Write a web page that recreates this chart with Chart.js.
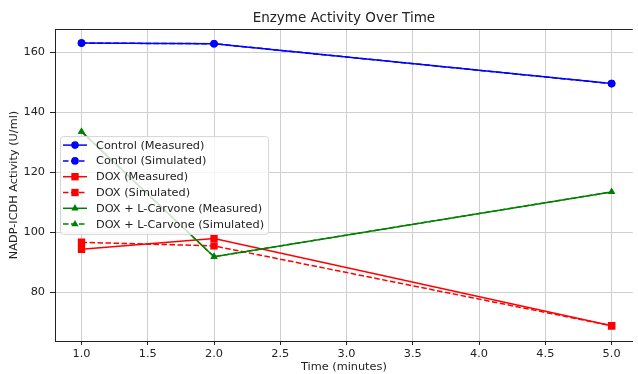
<!DOCTYPE html>
<html>
<head>
<meta charset="utf-8">
<script src="https://cdn.jsdelivr.net/npm/chart.js@4.4.1/dist/chart.umd.min.js"></script>
<style>
  html, body { margin: 0; padding: 0; background: #fff; }
  #wrap { width: 638px; height: 374px; position: relative; }
</style>
</head>
<body>
<div id="wrap"><canvas id="myChart"></canvas></div>
<script>
// DATA
const timeMin= [1.0, 2.0, 5.0];
const controlMeasured= [163.0, 162.8, 149.5];
const controlSimulated= [163.0, 162.8, 149.5];
const doxMeasured= [94.3, 97.9, 68.8];
const doxSimulated= [96.6, 95.4, 68.8];
const carvoneMeasured= [133.5, 91.8, 113.4];
const carvoneSimulated= [133.5, 91.8, 113.4];
const seriesLabels= ["Control (Measured)", "Control (Simulated)", "DOX (Measured)", "DOX (Simulated)", "DOX + L-Carvone (Measured)", "DOX + L-Carvone (Simulated)"];
const xTicks= [1.0, 1.5, 2.0, 2.5, 3.0, 3.5, 4.0, 4.5, 5.0];
const yTicks= [80, 100, 120, 140, 160];

const FONT= "'DejaVu Sans', sans-serif";
const FS= 11.3;     // tick / label / legend font size
const TEXT= "#222";

Chart.defaults.font.family= FONT;
Chart.defaults.color= TEXT;

// turn the x / y arrays into points
const toPoints= (ys) => timeMin.map((x, i) => ({x: x, y: ys[i]}));

// one dataset per series, later series drawn on top (like matplotlib)
const makeSet= function(idx, values, color, style, radius, dashed){
    return {
        label: seriesLabels[idx],
        data: toPoints(values),
        borderColor: color,
        backgroundColor: color,
        borderWidth: 1.5,
        borderDash: dashed ? [5.5, 2.5] : [],
        pointStyle: style,
        pointRadius: radius,
        pointHoverRadius: radius,
        pointBorderWidth: 0,
        pointBackgroundColor: color,
        fill: false,
        tension: 0,
        order: 10 - idx,
    };
};

const datasets= [
    makeSet(0, controlMeasured, "#0000ff", "circle", 3.8, false),
    makeSet(1, controlSimulated, "#0000ff", "circle", 3.8, true),
    makeSet(2, doxMeasured, "#ff0000", "rect", 5.2, false),
    makeSet(3, doxSimulated, "#ff0000", "rect", 5.2, true),
    makeSet(4, carvoneMeasured, "#008000", "triangle", 4.2, false),
    makeSet(5, carvoneSimulated, "#008000", "triangle", 4.2, true),
];

// top spine of the axes box
const framePlugin= {
    id: 'frame',
    afterDraw(chart){
        const {ctx, chartArea}= chart;
        ctx.save();
        ctx.strokeStyle= TEXT;
        ctx.lineWidth= 1;
        ctx.beginPath();
        ctx.moveTo(chartArea.left, chartArea.top + 0.5);
        ctx.lineTo(chartArea.right, chartArea.top + 0.5);
        ctx.stroke();
        ctx.restore();
    }
};

// matplotlib style legend, "center left" inside the axes
const legendPlugin= {
    id: 'mplLegend',
    afterDatasetsDraw(chart){
        const {ctx, chartArea}= chart;
        const rowH= 15.8;
        const n= chart.data.datasets.length;
        ctx.save();
        ctx.font= `${FS}px ${FONT}`;
        let maxW= 0;
        chart.data.datasets.forEach(ds => { maxW= Math.max(maxW, ctx.measureText(ds.label).width); });
        const left= chartArea.left + 5;
        const boxW= 3 + 24 + 9 + maxW + 4;
        const boxH= n * rowH + 3;
        const top= (chartArea.top + chartArea.bottom) / 2 - boxH / 2;

        // box
        ctx.beginPath();
        ctx.roundRect(left + 0.5, top + 0.5, boxW, boxH, 3);
        ctx.fillStyle= "rgba(255,255,255,0.8)";
        ctx.fill();
        ctx.strokeStyle= "#d6d6d6";
        ctx.lineWidth= 1;
        ctx.stroke();

        chart.data.datasets.forEach((ds, i) => {
            const y= top + 9 + i * rowH;
            const x0= left + 3, x1= left + 27;
            ctx.strokeStyle= ds.borderColor;
            ctx.fillStyle= ds.borderColor;
            ctx.lineWidth= ds.borderWidth;
            ctx.setLineDash(ds.borderDash);
            ctx.beginPath();
            ctx.moveTo(x0, y);
            ctx.lineTo(x1, y);
            ctx.stroke();
            ctx.setLineDash([]);
            Chart.helpers.drawPoint(ctx, {pointStyle: ds.pointStyle, radius: ds.pointRadius, rotation: 0, borderWidth: 0}, (x0 + x1) / 2, y);
            ctx.fillStyle= TEXT;
            ctx.textBaseline= 'middle';
            ctx.textAlign= 'left';
            ctx.fillText(ds.label, x1 + 9, y + 0.5);
        });
        ctx.restore();
    }
};

const canvasElement= document.getElementById('myChart');
new Chart(canvasElement, {
    type: 'line',
    data: { datasets: datasets },
    options: {
        responsive: true,
        maintainAspectRatio: false,
        animation: false,
        layout: { padding: { left: 0, right: 2, top: 0, bottom: 0 } },
        scales: {
            x: {
                type: 'linear',
                min: 0.8,
                max: 5.16,
                afterBuildTicks: (scale) => { scale.ticks= xTicks.map(v => ({value: v})); },
                afterFit: (scale) => { scale.height= 33; },
                ticks: {
                    font: { size: FS },
                    color: TEXT,
                    padding: 2,
                    maxRotation: 0,
                    autoSkip: false,
                    callback: (v) => Number(v).toFixed(1),
                },
                grid: { color: "#cfcfcf", lineWidth: 1, tickLength: 4, tickColor: TEXT },
                border: { display: true, color: TEXT, width: 1 },
                title: { display: true, text: "Time (minutes)", font: { size: FS }, color: TEXT, padding: { top: 0, bottom: 0 } },
            },
            y: {
                type: 'linear',
                min: 63.7,
                max: 167.7,
                afterBuildTicks: (scale) => { scale.ticks= yTicks.map(v => ({value: v})); },
                afterFit: (scale) => { scale.width= 55; },
                ticks: { font: { size: FS }, color: TEXT, padding: 5 },
                grid: { color: "#cfcfcf", lineWidth: 1, tickLength: 5, tickColor: TEXT },
                border: { display: true, color: TEXT, width: 1 },
                title: { display: true, text: "NADP-ICDH Activity (U/ml)", font: { size: FS }, color: TEXT, padding: { top: 7, bottom: 0 } },
            },
        },
        plugins: {
            legend: { display: false },
            tooltip: { enabled: false },
            title: {
                display: true,
                text: "Enzyme Activity Over Time",
                fullSize: false,
                color: TEXT,
                font: { size: 13.5, weight: 'normal' },
                padding: { top: 10, bottom: 2.8 },
            },
        },
    },
    plugins: [legendPlugin, framePlugin],
});
</script>
</body>
</html>
